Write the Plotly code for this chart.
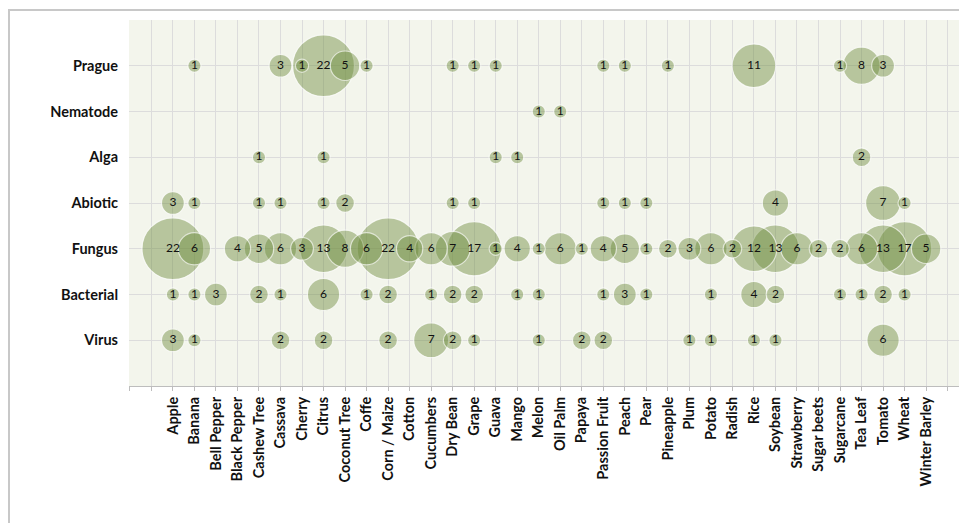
import plotly.graph_objects as go

categories = ["Apple", "Banana", "Bell Pepper", "Black Pepper", "Cashew Tree", "Cassava",
              "Cherry", "Citrus", "Coconut Tree", "Coffe", "Corn / Maize", "Cotton",
              "Cucumbers", "Dry Bean", "Grape", "Guava", "Mango", "Melon", "Oil Palm",
              "Papaya", "Passion Fruit", "Peach", "Pear", "Pineapple", "Plum", "Potato",
              "Radish", "Rice", "Soybean", "Strawberry", "Sugar beets", "Sugarcane",
              "Tea Leaf", "Tomato", "Wheat", "Winter Barley"]

row_labels = ["Virus", "Bacterial", "Fungus", "Abiotic", "Alga", "Nematode", "Prague"]

#            Ap Ba BP BlP Ca Cs Ch Ci Co Cf CM Ct Cu DB Gr Gu Ma Me OP Pa PF Pe Pr Pi Pl Po Ra Ri So St SB Sc TL To Wh WB
virus     = [3, 1, 0, 0, 0, 2, 0, 2, 0, 0, 2, 0, 7, 2, 1, 0, 0, 1, 0, 2, 2, 0, 0, 0, 1, 1, 0, 1, 1, 0, 0, 0, 0, 6, 0, 0]
bacterial = [1, 1, 3, 0, 2, 1, 0, 6, 0, 1, 2, 0, 1, 2, 2, 0, 1, 1, 0, 0, 1, 3, 1, 0, 0, 1, 0, 4, 2, 0, 0, 1, 1, 2, 1, 0]
fungus    = [22, 6, 0, 4, 5, 6, 3, 13, 8, 6, 22, 4, 6, 7, 17, 1, 4, 1, 6, 1, 4, 5, 1, 2, 3, 6, 2, 12, 13, 6, 2, 2, 6, 13, 17, 5]
abiotic   = [3, 1, 0, 0, 1, 1, 0, 1, 2, 0, 0, 0, 0, 1, 1, 0, 0, 0, 0, 0, 1, 1, 1, 0, 0, 0, 0, 0, 4, 0, 0, 0, 0, 7, 1, 0]
alga      = [0, 0, 0, 0, 1, 0, 0, 1, 0, 0, 0, 0, 0, 0, 0, 1, 1, 0, 0, 0, 0, 0, 0, 0, 0, 0, 0, 0, 0, 0, 0, 0, 2, 0, 0, 0]
nematode  = [0, 0, 0, 0, 0, 0, 0, 0, 0, 0, 0, 0, 0, 0, 0, 0, 0, 1, 1, 0, 0, 0, 0, 0, 0, 0, 0, 0, 0, 0, 0, 0, 0, 0, 0, 0]
prague    = [0, 1, 0, 0, 0, 3, 1, 22, 5, 1, 0, 0, 0, 1, 1, 1, 0, 0, 0, 0, 1, 1, 0, 1, 0, 0, 0, 11, 0, 0, 0, 1, 8, 3, 0, 0]

rows = [virus, bacterial, fungus, abiotic, alga, nematode, prague]

# build point table, biggest bubbles drawn first
pts = []
for ri, vals in enumerate(rows):
    for ci, v in enumerate(vals):
        if v > 0:
            pts.append((ci, ri + 1, v))
pts.sort(key=lambda p: -p[2])
xs = [p[0] for p in pts]
ys = [p[1] for p in pts]
vs = [p[2] for p in pts]

FONT = "Lato, Open Sans, sans-serif"

fig = go.Figure(go.Scatter(
    x=xs, y=ys, mode="markers+text",
    text=[str(v) for v in vs], textposition="middle center",
    textfont=dict(family=FONT, size=12, color="#111111"),
    marker=dict(size=vs, sizemode="area", sizeref=0.0115,
                color="rgba(110,140,60,0.63)",
                line=dict(color="rgba(255,255,255,0.85)", width=1.2)),
    hoverinfo="skip", cliponaxis=False,
))

tickvals = list(range(-2, 38))
ticktext = [categories[i] if 0 <= i < len(categories) else "" for i in tickvals]

# page body adds an 8px offset; figure is sized to fill the rest of the window
W, H = 959, 515
L, T, B = 121, 12, 137
PW, PH = W - L, H - T - B

fig.update_layout(
    width=W, height=H,
    margin=dict(l=L, r=0, t=T, b=B),
    paper_bgcolor="white", plot_bgcolor="#F3F5EC",
    showlegend=False,
    font=dict(family=FONT, color="#111111"),
    xaxis=dict(range=[-2.04, -2.04 + PW / 21.52], tickmode="array", tickvals=tickvals, ticktext=ticktext,
               tickangle=-90, showgrid=True, gridcolor="#DCDCDC", gridwidth=1.2,
               zeroline=False, showline=True, linecolor="#BDBDBD", linewidth=1,
               ticks="outside", ticklen=4, tickcolor="#BDBDBD",
               tickfont=dict(size=14.5, family=FONT, weight="bold")),
    yaxis=dict(range=[0, 8], tickmode="array", tickvals=list(range(1, 8)), ticktext=row_labels,
               showgrid=True, gridcolor="#DCDCDC", gridwidth=1.2, zeroline=False,
               showline=False, ticks="", ticklabelstandoff=10,
               tickfont=dict(size=14.5, family=FONT, weight="bold")),
    shapes=[dict(type="rect", xref="paper", yref="paper",
                 x0=(1 - L) / PW, x1=1.2, y0=-0.6, y1=(PH + T - 2) / PH,
                 line=dict(color="#C8C8C8", width=2), fillcolor="rgba(0,0,0,0)", layer="below")],
)

fig.write_html("out.html")
